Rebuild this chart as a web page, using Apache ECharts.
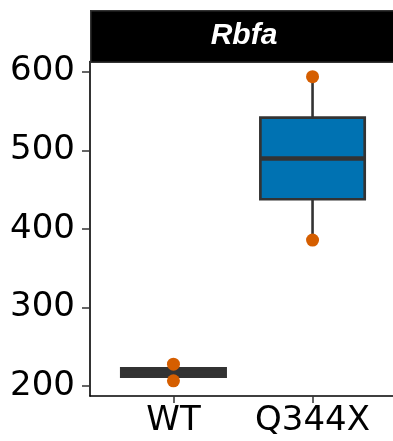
<!DOCTYPE html>
<html>
<head>
<meta charset="utf-8">
<script src="https://cdn.jsdelivr.net/npm/echarts@6/dist/echarts.min.js"></script>
<style>
html,body{margin:0;padding:0;background:#fff;}
#chart{width:393px;height:441px;}
</style>
</head>
<body>
<div id="chart"></div>
<script>
// ---- data ----
const panelTitle = 'Rbfa';
const categories = ['WT', 'Q344X'];
const boxMin = [206.8, 385.8];
const boxQ1 = [212.1, 437.7];
const boxMedian = [217.4, 489.6];
const boxQ3 = [222.7, 541.6];
const boxMax = [228.0, 593.6];
const boxFill = ['#333333', '#0072B2'];
const pointsX = [1, 1, 2, 2];
const pointsY = [206.8, 228.0, 385.8, 593.6];
const yTicks = [200, 300, 400, 500, 600];
const xTicks = [1, 2];

const boxData = categories.map((c, i) => [i + 1, boxMin[i], boxQ1[i], boxMedian[i], boxQ3[i], boxMax[i]]);
const pointData = pointsX.map((x, i) => [x, pointsY[i]]);

const chart = echarts.init(document.getElementById('chart'), null, {renderer: 'canvas'});
const labelFont = 'DejaVu Sans';

const option = {
  backgroundColor: '#ffffff',
  animation: false,
  grid: {left: 90, top: 61.5, width: 306, height: 334.5, containLabel: false, outerBoundsMode: 'none'},
  xAxis: {
    type: 'value', min: 0.4, max: 2.6,
    splitLine: {show: false},
    axisLine: {show: true, lineStyle: {color: '#000', width: 1.6}},
    axisTick: {show: true, customValues: xTicks, length: 7, lineStyle: {color: '#333', width: 1.5}},
    axisLabel: {show: true, customValues: xTicks, margin: 8, color: '#000', fontFamily: labelFont, fontSize: 34,
      formatter: v => categories[Math.round(v) - 1]}
  },
  yAxis: {
    type: 'value', min: 187.5, max: 612.9,
    splitLine: {show: false},
    axisLine: {show: true, lineStyle: {color: '#000', width: 1.6}},
    axisTick: {show: true, customValues: yTicks, length: 8, lineStyle: {color: '#333', width: 1.5}},
    axisLabel: {show: true, customValues: yTicks, margin: 15, color: '#000', fontFamily: labelFont, fontSize: 34}
  },
  series: [
    {
      type: 'custom', name: 'whiskers', z: 2,
      data: boxData,
      renderItem(params, api) {
        const x = api.value(0);
        const lo = api.coord([x, api.value(1)]);
        const q1 = api.coord([x, api.value(2)]);
        const q3 = api.coord([x, api.value(4)]);
        const hi = api.coord([x, api.value(5)]);
        const st = {stroke: '#333333', lineWidth: 2.6};
        return {type: 'group', children: [
          {type: 'line', shape: {x1: lo[0], y1: q3[1], x2: hi[0], y2: hi[1]}, style: st},
          {type: 'line', shape: {x1: lo[0], y1: q1[1], x2: lo[0], y2: lo[1]}, style: st}
        ]};
      }
    },
    {
      type: 'custom', name: 'box', z: 3,
      data: boxData,
      renderItem(params, api) {
        const i = params.dataIndex;
        const x = api.value(0);
        const q1 = api.coord([x, api.value(2)]);
        const med = api.coord([x, api.value(3)]);
        const q3 = api.coord([x, api.value(4)]);
        const bw = api.size([0.75, 0])[0];
        return {type: 'group', children: [
          {type: 'rect', shape: {x: q1[0] - bw / 2, y: q3[1], width: bw, height: q1[1] - q3[1]},
            style: {fill: boxFill[i], stroke: '#333333', lineWidth: 2.7}},
          {type: 'line', shape: {x1: med[0] - bw / 2, y1: med[1], x2: med[0] + bw / 2, y2: med[1]},
            style: {stroke: '#333333', lineWidth: 4.5}}
        ]};
      }
    },
    {
      type: 'scatter', name: 'points', z: 4,
      data: pointData,
      symbol: 'circle', symbolSize: 13,
      itemStyle: {color: '#D55E00', opacity: 1}
    }
  ],
  graphic: [
    {type: 'rect', left: 90, top: 10, shape: {width: 306, height: 51.5},
      style: {fill: '#000', stroke: '#333', lineWidth: 1.5}, z: 10},
    {type: 'text', x: 244, y: 36, z: 11,
      style: {text: panelTitle, fill: '#fff', font: 'italic bold 30px "Liberation Sans", Arial, sans-serif',
        textAlign: 'center', textVerticalAlign: 'middle'}}
  ]
};
chart.setOption(option);
</script>
</body>
</html>
